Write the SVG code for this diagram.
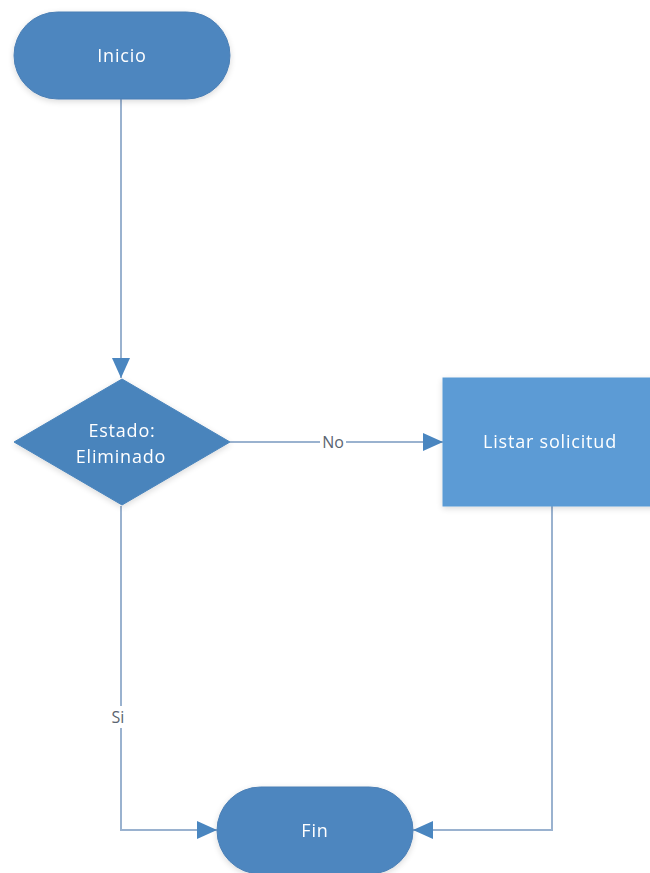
<svg xmlns="http://www.w3.org/2000/svg" width="650" height="873" viewBox="0 0 650 873">
<defs>
<style>
.term{fill:#4e86bf;stroke:#4a7fb5;stroke-width:1}
.dec{fill:#4a84bc;stroke:#4a84bc;stroke-width:1}
.proc{fill:#5b9bd5;stroke:#5b9bd5;stroke-width:1}
.wt{font-family:"Open Sans","Liberation Sans",sans-serif;font-size:18px;letter-spacing:0.8px;fill:#ffffff;text-anchor:middle}
.lbl{font-family:"Open Sans","Liberation Sans",sans-serif;font-size:16px;fill:#5a6470;text-anchor:middle}
.conn{fill:none;stroke:#9ab2cf;stroke-width:2}
</style>
<marker id="ahb" viewBox="0 0 20 20" refX="20" refY="10" markerWidth="20" markerHeight="20" markerUnits="userSpaceOnUse" orient="auto">
<path d="M0,1 L20,10 L0,19 z" fill="#4a86c0"/>
</marker>
<filter id="sh" x="-10%" y="-10%" width="120%" height="130%">
<feGaussianBlur in="SourceAlpha" stdDeviation="3"/>
<feOffset dy="2"/>
<feComponentTransfer><feFuncA type="linear" slope="0.15"/></feComponentTransfer>
<feMerge><feMergeNode/><feMergeNode in="SourceGraphic"/></feMerge>
</filter>
</defs>
<rect width="650" height="873" fill="#ffffff"/>
<g id="connectors">
<path class="conn" d="M121,99 V378" marker-end="url(#ahb)"/>
<path class="conn" d="M230,442 H443" marker-end="url(#ahb)"/>
<rect x="320" y="432" width="26" height="20" fill="#ffffff"/>
<text class="lbl" x="333" y="448">No</text>
<path class="conn" d="M121,506 V830 H217" marker-end="url(#ahb)"/>
<rect x="108" y="706" width="20" height="22" fill="#ffffff"/>
<text class="lbl" x="118" y="723">Si</text>
<path class="conn" d="M552,506 V830 H413" marker-end="url(#ahb)"/>
</g>
<g id="inicio" filter="url(#sh)">
<rect class="term" x="14" y="12" width="216" height="87" rx="43.5"/>
<text class="wt" x="122" y="62">Inicio</text>
</g>
<g id="estado" filter="url(#sh)">
<polygon class="dec" points="122,379 230,442 122,505 14,442"/>
<text class="wt" x="122" y="437">Estado:</text>
<text class="wt" x="121" y="463">Eliminado</text>
</g>
<g id="listar" filter="url(#sh)">
<rect class="proc" x="443" y="378" width="215" height="128"/>
<text class="wt" x="550" y="448">Listar solicitud</text>
</g>
<g id="fin" filter="url(#sh)">
<rect class="term" x="217" y="787" width="196" height="87" rx="43.5"/>
<text class="wt" x="315" y="837">Fin</text>
</g>
</svg>
